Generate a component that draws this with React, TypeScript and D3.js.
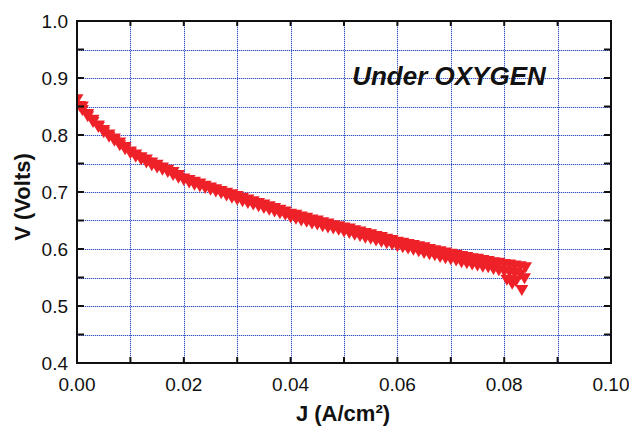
import React from 'react'
import * as d3 from 'd3'

// forward sweep (upper row of markers), J in A/cm², V in volts
const jUp = [0, 0.001, 0.002, 0.003, 0.004, 0.005, 0.006, 0.007, 0.008, 0.009, 0.01, 0.011, 0.012, 0.013, 0.014, 0.015, 0.016, 0.017, 0.018, 0.019, 0.02, 0.021, 0.022, 0.023, 0.024, 0.025, 0.026, 0.027, 0.028, 0.029, 0.03, 0.031, 0.032, 0.033, 0.034, 0.035, 0.036, 0.037, 0.038, 0.039, 0.04, 0.041, 0.042, 0.043, 0.044, 0.045, 0.046, 0.047, 0.048, 0.049, 0.05, 0.051, 0.052, 0.053, 0.054, 0.055, 0.056, 0.057, 0.058, 0.059, 0.06, 0.061, 0.062, 0.063, 0.064, 0.065, 0.066, 0.067, 0.068, 0.069, 0.07, 0.071, 0.072, 0.073, 0.074, 0.075, 0.076, 0.077, 0.078, 0.079, 0.08, 0.081, 0.082, 0.083, 0.084]
const vUp = [0.862, 0.849, 0.836, 0.826, 0.816, 0.808, 0.8, 0.793, 0.786, 0.778, 0.77, 0.765, 0.76, 0.756, 0.751, 0.747, 0.742, 0.738, 0.734, 0.729, 0.723, 0.72, 0.717, 0.714, 0.71, 0.707, 0.704, 0.701, 0.698, 0.695, 0.692, 0.689, 0.686, 0.683, 0.68, 0.677, 0.674, 0.671, 0.668, 0.665, 0.661, 0.659, 0.656, 0.654, 0.651, 0.649, 0.646, 0.644, 0.641, 0.639, 0.637, 0.635, 0.632, 0.63, 0.627, 0.625, 0.622, 0.62, 0.617, 0.615, 0.612, 0.61, 0.608, 0.606, 0.604, 0.602, 0.599, 0.597, 0.595, 0.593, 0.591, 0.589, 0.587, 0.585, 0.583, 0.582, 0.58, 0.578, 0.576, 0.575, 0.573, 0.572, 0.57, 0.569, 0.567]

// reverse sweep (slightly lower row)
const jDown = [0.0005, 0.001, 0.002, 0.003, 0.004, 0.005, 0.006, 0.007, 0.008, 0.009, 0.01, 0.011, 0.012, 0.013, 0.014, 0.015, 0.016, 0.017, 0.018, 0.019, 0.02, 0.021, 0.022, 0.023, 0.024, 0.025, 0.026, 0.027, 0.028, 0.029, 0.03, 0.031, 0.032, 0.033, 0.034, 0.035, 0.036, 0.037, 0.038, 0.039, 0.04, 0.041, 0.042, 0.043, 0.044, 0.045, 0.046, 0.047, 0.048, 0.049, 0.05, 0.051, 0.052, 0.053, 0.054, 0.055, 0.056, 0.057, 0.058, 0.059, 0.06, 0.061, 0.062, 0.063, 0.064, 0.065, 0.066, 0.067, 0.068, 0.069, 0.07, 0.071, 0.072, 0.073, 0.074, 0.075, 0.076, 0.077, 0.078, 0.079, 0.08, 0.081, 0.082, 0.083]
const vDown = [0.85, 0.843, 0.832, 0.822, 0.813, 0.804, 0.796, 0.789, 0.781, 0.774, 0.767, 0.761, 0.756, 0.751, 0.746, 0.742, 0.738, 0.734, 0.729, 0.724, 0.72, 0.716, 0.712, 0.709, 0.706, 0.703, 0.7, 0.697, 0.693, 0.689, 0.686, 0.683, 0.68, 0.677, 0.674, 0.671, 0.668, 0.665, 0.662, 0.659, 0.655, 0.652, 0.649, 0.647, 0.644, 0.642, 0.639, 0.637, 0.635, 0.633, 0.63, 0.627, 0.624, 0.622, 0.619, 0.617, 0.614, 0.612, 0.609, 0.607, 0.604, 0.602, 0.6, 0.598, 0.595, 0.592, 0.59, 0.588, 0.585, 0.583, 0.581, 0.579, 0.576, 0.574, 0.572, 0.57, 0.568, 0.567, 0.564, 0.562, 0.56, 0.559, 0.557, 0.555]

// last points that drop off at the end
const jTail = [0.0805, 0.0815, 0.0822, 0.0838, 0.0833]
const vTail = [0.545, 0.538, 0.543, 0.548, 0.527]

const xTicks = [0, 0.01, 0.02, 0.03, 0.04, 0.05, 0.06, 0.07, 0.08, 0.09, 0.1]
const xLabels = [0, 0.02, 0.04, 0.06, 0.08, 0.1]
const yTicks = [0.4, 0.45, 0.5, 0.55, 0.6, 0.65, 0.7, 0.75, 0.8, 0.85, 0.9, 0.95, 1.0]
const yLabels = [0.4, 0.5, 0.6, 0.7, 0.8, 0.9, 1.0]

const W = 629
const H = 428
const left = 77
const right = 611
const top = 21
const bottom = 363

export default function App() {
  const x = d3.scaleLinear().domain([0, 0.1]).range([left, right])
  const y = d3.scaleLinear().domain([0.4, 1.0]).range([bottom, top])

  const pts: [number, number][] = []
  jUp.forEach((j, i) => pts.push([j, vUp[i]]))
  jDown.forEach((j, i) => pts.push([j, vDown[i]]))
  jTail.forEach((j, i) => pts.push([j, vTail[i]]))

  const tri = 'M-6.5,-5.5L6.5,-5.5L0,5.5Z'
  const font = 'Liberation Sans, Arial, sans-serif'

  const gx = xTicks.slice(1, -1).map(t => Math.round(x(t)) + 0.5)
  const gy = yTicks.slice(1, -1).map(t => Math.round(y(t)) + 0.5)

  return (
    <svg width={W} height={H} style={{position: 'absolute', left: 0, top: 0}} fontFamily={font}>
      <defs>
        <clipPath id="plot">
          <rect x={left} y={top} width={right - left} height={bottom - top} />
        </clipPath>
      </defs>
      <rect width={W} height={H} fill="#fff" />

      {/* grid: pale line under blue dots */}
      <g stroke="#c3cdef" strokeWidth={1}>
        {gx.map(v => <line key={'px' + v} x1={v} x2={v} y1={top} y2={bottom} />)}
        {gy.map(v => <line key={'py' + v} y1={v} y2={v} x1={left} x2={right} />)}
      </g>
      <g stroke="#3553c2" strokeWidth={1} strokeDasharray="1,1">
        {gx.map(v => <line key={'gx' + v} x1={v} x2={v} y1={top} y2={bottom} />)}
        {gy.map(v => <line key={'gy' + v} y1={v} y2={v} x1={left} x2={right} />)}
      </g>

      {/* markers */}
      <g clipPath="url(#plot)" fill="#ee2128">
        {pts.map((p, i) => (
          <path key={i} d={tri} transform={`translate(${x(p[0])},${y(p[1])})`} />
        ))}
      </g>

      {/* ticks, inward on all sides */}
      <g stroke="#111" strokeWidth={2}>
        {xTicks.map(t => (
          <g key={'tx' + t}>
            <line x1={x(t)} x2={x(t)} y1={bottom} y2={bottom - 6} />
            <line x1={x(t)} x2={x(t)} y1={top} y2={top + 5} />
          </g>
        ))}
        {yTicks.map(t => (
          <g key={'ty' + t}>
            <line y1={y(t)} y2={y(t)} x1={left} x2={left + 7} />
            <line y1={y(t)} y2={y(t)} x1={right} x2={right - 7} />
          </g>
        ))}
      </g>
      <rect x={left} y={top} width={right - left} height={bottom - top} fill="none" stroke="#111" strokeWidth={2} />

      {/* tick labels */}
      <g fontSize={19} fill="#111">
        {yLabels.map(t => (
          <text key={'ly' + t} x={left - 9} y={y(t)} dy="0.35em" textAnchor="end">
            {t.toFixed(1)}
          </text>
        ))}
        {xLabels.map(t => (
          <text key={'lx' + t} x={x(t)} y={bottom + 28} textAnchor="middle">
            {t.toFixed(2)}
          </text>
        ))}
      </g>

      {/* titles */}
      <text x={343} y={421} textAnchor="middle" fontSize={22} fontWeight="bold" fill="#111">
        J (A/cm²)
      </text>
      <text transform="translate(30,197) rotate(-90)" textAnchor="middle" fontSize={22} fontWeight="bold" fill="#111">
        V (Volts)
      </text>
      <text x={449} y={85} textAnchor="middle" fontSize={26} fontWeight="bold" fontStyle="italic" fill="#111">
        Under OXYGEN
      </text>
    </svg>
  )
}
